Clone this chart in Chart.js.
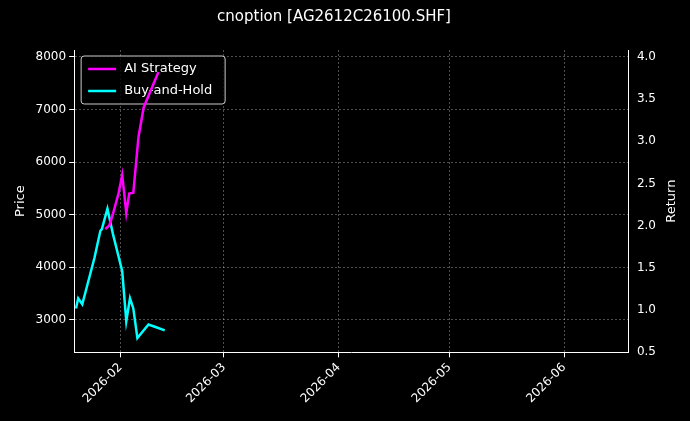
<!DOCTYPE html>
<html><head><meta charset="utf-8">
<script src="https://cdn.jsdelivr.net/npm/chart.js@4"></script>
<style>body{margin:0;background:#000}#wrap{width:690px;height:421px}</style>
</head><body><div id="wrap"><canvas id="c"></canvas></div>
<script>
// x = day of year 2026 (Jan 1 = 0)
const holdDays = [19, 19.6, 20.7, 24, 25.6, 26, 27.5, 29, 31.5, 32.6, 33.6, 34.5, 35.6, 38.6, 40.5, 43];
const holdReturn = [1.02, 1.14, 1.07, 1.62, 1.94, 1.96, 2.20, 1.90, 1.46, 0.87, 1.14, 1.02, 0.67, 0.83, 0.80, 0.76];
const aiDays = [26.9, 28, 29, 30.5, 31.5, 32.6, 33.4, 34.5, 35.9, 37.3, 41.3];
const aiReturn = [1.96, 2.0, 2.14, 2.38, 2.60, 2.15, 2.38, 2.39, 3.05, 3.40, 3.82];
const tickDays = [31, 59, 90, 120, 151];
const tickLabels = ["2026-02", "2026-03", "2026-04", "2026-05", "2026-06"];

Chart.defaults.font.family = "DejaVu Sans";
Chart.defaults.color = "#fff";
const grid = {color: "rgba(255,255,255,0.3)", drawTicks: true, tickColor: "#fff", tickLength: 5};
const dashBorder = {color: "#fff", dash: [2, 2]};

const boxLegend = {
  id: "boxLegend",
  beforeDatasetsDraw(chart) {
    const c = chart.ctx, a = chart.chartArea;
    const x = a.left + 7, y = a.top + 6;
    c.save();
    c.fillStyle = "rgba(0,0,0,0.8)";
    c.strokeStyle = "#ccc";
    c.lineWidth = 1;
    c.beginPath(); c.roundRect(x, y, 144, 48, 3); c.fill(); c.stroke();
    c.font = "13px DejaVu Sans"; c.textBaseline = "middle";
    chart.data.datasets.forEach((ds, i) => {
      const ly = y + 13 + i * 22;
      c.strokeStyle = ds.borderColor; c.lineWidth = 2.5;
      c.beginPath(); c.moveTo(x + 7, ly); c.lineTo(x + 35, ly); c.stroke();
      c.fillStyle = "#fff"; c.fillText(ds.label, x + 43, ly);
    });
    c.restore();
  },
  afterDraw(chart) {
    const c = chart.ctx, a = chart.chartArea;
    c.save();
    c.font = "13px DejaVu Sans"; c.fillStyle = "#fff";
    c.translate(chart.width - 18, (a.top + a.bottom) / 2);
    c.rotate(-Math.PI / 2);
    c.textAlign = "center"; c.textBaseline = "middle";
    c.fillText("Return", 0, 0);
    c.restore();
  }
};

new Chart(document.getElementById("c"), {
  type: "line",
  data: {datasets: [
    {label: "AI Strategy", data: aiDays.map((d, i) => ({x: d, y: aiReturn[i]})), borderColor: "#ff00ff", borderWidth: 2.5, pointRadius: 0, yAxisID: "y1"},
    {label: "Buy-and-Hold", data: holdDays.map((d, i) => ({x: d, y: holdReturn[i]})), borderColor: "#00ffff", borderWidth: 2.5, pointRadius: 0, yAxisID: "y1"}
  ]},
  plugins: [boxLegend],
  options: {
    responsive: true, maintainAspectRatio: false, animation: false,
    layout: {padding: {left: 9, right: 31, top: 2, bottom: 12}},
    plugins: {
      title: {display: true, text: "cnoption [AG2612C26100.SHF]", font: {size: 15, weight: "normal"}, padding: {top: 6, bottom: 24}},
      legend: {display: false}
    },
    scales: {
      x: {type: "linear", min: 18.5, max: 168.5,
        afterBuildTicks: a => { a.ticks = tickDays.map(v => ({value: v})); },
        ticks: {callback: v => tickLabels[tickDays.indexOf(v)], maxRotation: 45, minRotation: 45, font: {size: 12}},
        grid: grid, border: dashBorder},
      y: {position: "left", min: 2375, max: 8133,
        afterBuildTicks: a => { a.ticks = [3000, 4000, 5000, 6000, 7000, 8000].map(v => ({value: v})); },
        title: {display: true, text: "Price", font: {size: 13}},
        ticks: {font: {size: 12}, callback: v => String(v)}, grid: grid, border: dashBorder},
      y1: {position: "right", min: 0.5, max: 4.08,
        afterBuildTicks: a => { a.ticks = [0.5, 1, 1.5, 2, 2.5, 3, 3.5, 4].map(v => ({value: v})); },
        ticks: {font: {size: 12}, callback: v => v.toFixed(1)}, grid: {display: false, tickColor: "#fff", tickLength: 5}, border: {color: "#fff"}}
    }
  }
});
</script></body></html>
